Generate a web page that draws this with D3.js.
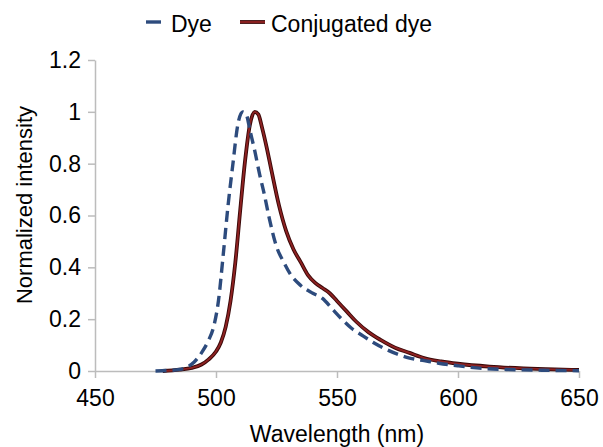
<!DOCTYPE html>
<html>
<head>
<meta charset="utf-8">
<script src="https://cdn.jsdelivr.net/npm/d3@7"></script>
<style>
  body { margin: 0; background: #fff; }
  svg { display: block; font-family: "Liberation Sans", Arial, sans-serif; }
</style>
</head>
<body>
<script>
const width = 603;
const height = 447;
const margin = { top: 60, right: 24, bottom: 76, left: 95 };
const fontSize = "23px";

// Dye emission spectrum (wavelength nm, normalized intensity)
const dyeWavelength = [475, 480, 485, 488, 491, 494, 497, 499, 501, 503, 505, 507, 509, 511, 512.5, 514, 516, 518, 520, 522, 525, 528, 531, 535, 540, 544, 548, 552, 556, 560, 565, 570, 575, 580, 586, 592, 600, 610, 620, 635, 650];
const dyeIntensity = [0, 0.002, 0.006, 0.015, 0.035, 0.07, 0.12, 0.17, 0.27, 0.45, 0.64, 0.8, 0.95, 1.0, 0.99, 0.93, 0.85, 0.76, 0.68, 0.59, 0.48, 0.42, 0.37, 0.33, 0.3, 0.28, 0.24, 0.2, 0.165, 0.14, 0.11, 0.085, 0.065, 0.05, 0.04, 0.03, 0.02, 0.01, 0.006, 0.003, 0.001];

// Conjugated dye emission spectrum
const conjWavelength = [478, 485, 490, 494, 497, 500, 502, 504, 506, 508, 510, 512, 514, 516, 517.5, 519, 521, 523, 526, 529, 532, 535, 538, 541, 544, 547, 550, 554, 558, 563, 568, 574, 580, 586, 593, 600, 613, 627, 640, 650];
const conjIntensity = [0, 0.005, 0.012, 0.025, 0.045, 0.075, 0.11, 0.17, 0.27, 0.42, 0.62, 0.81, 0.95, 1.0, 0.99, 0.94, 0.86, 0.77, 0.64, 0.54, 0.47, 0.42, 0.37, 0.34, 0.32, 0.3, 0.27, 0.23, 0.19, 0.15, 0.12, 0.09, 0.07, 0.05, 0.037, 0.028, 0.017, 0.01, 0.006, 0.004];

const xTicks = [450, 500, 550, 600, 650];
const yTicks = [0, 0.2, 0.4, 0.6, 0.8, 1, 1.2];

const dye = dyeWavelength.map((w, i) => ({ w, v: dyeIntensity[i] }));
const conj = conjWavelength.map((w, i) => ({ w, v: conjIntensity[i] }));

const svg = d3.select("body").append("svg")
  .attr("width", width)
  .attr("height", height);

const x = d3.scaleLinear().domain([450, 650]).range([margin.left, width - margin.right]);
const y = d3.scaleLinear().domain([0, 1.2]).range([height - margin.bottom, margin.top]);

const axisColor = "#bcbcbc";

const xAxis = svg.append("g")
  .attr("transform", `translate(0,${height - margin.bottom})`)
  .call(d3.axisBottom(x).tickValues(xTicks).tickSize(7).tickSizeOuter(0).tickPadding(12));

const yAxis = svg.append("g")
  .attr("transform", `translate(${margin.left},0)`)
  .call(d3.axisLeft(y).tickValues(yTicks).tickSize(7).tickSizeOuter(0).tickPadding(7)
    .tickFormat(d => d === 0 ? "0" : d3.format("")(+d.toFixed(1))));

[xAxis, yAxis].forEach(g => {
  g.selectAll("path, line").attr("stroke", axisColor).attr("stroke-width", 1.5);
  g.selectAll("text").attr("fill", "#000").style("font-size", fontSize)
    .style("font-family", "'Liberation Sans', Arial, sans-serif");
});

const line = d3.line()
  .x(d => x(d.w))
  .y(d => y(d.v))
  .curve(d3.curveMonotoneX);

// conjugated dye: dark red with a dark edge
svg.append("path").datum(conj)
  .attr("fill", "none").attr("stroke", "#3a0808").attr("stroke-width", 3.8)
  .attr("d", line);
svg.append("path").datum(conj)
  .attr("fill", "none").attr("stroke", "#8e2222").attr("stroke-width", 1.9)
  .attr("d", line);

// dye: dashed blue
svg.append("path").datum(dye)
  .attr("fill", "none").attr("stroke", "#2d4b7d").attr("stroke-width", 3.4)
  .attr("stroke-dasharray", "11,6")
  .attr("d", line);

// legend
const legend = svg.append("g");
legend.append("line")
  .attr("x1", 146).attr("x2", 161).attr("y1", 22).attr("y2", 22)
  .attr("stroke", "#2d4b7d").attr("stroke-width", 3.4);
legend.append("text").attr("x", 171).attr("y", 32).text("Dye")
  .style("font-size", fontSize);
legend.append("line")
  .attr("x1", 240).attr("x2", 265).attr("y1", 22).attr("y2", 22)
  .attr("stroke", "#3a0808").attr("stroke-width", 3.8);
legend.append("line")
  .attr("x1", 240).attr("x2", 265).attr("y1", 22).attr("y2", 22)
  .attr("stroke", "#8e2222").attr("stroke-width", 1.9);
legend.append("text").attr("x", 271).attr("y", 32).text("Conjugated dye")
  .style("font-size", fontSize);

// axis titles
svg.append("text")
  .attr("x", (margin.left + width - margin.right) / 2)
  .attr("y", 442)
  .attr("text-anchor", "middle")
  .style("font-size", fontSize)
  .text("Wavelength (nm)");

svg.append("text")
  .attr("transform", "translate(32,205) rotate(-90)")
  .attr("text-anchor", "middle")
  .style("font-size", "22px")
  .text("Normalized intensity");
</script>
</body>
</html>
